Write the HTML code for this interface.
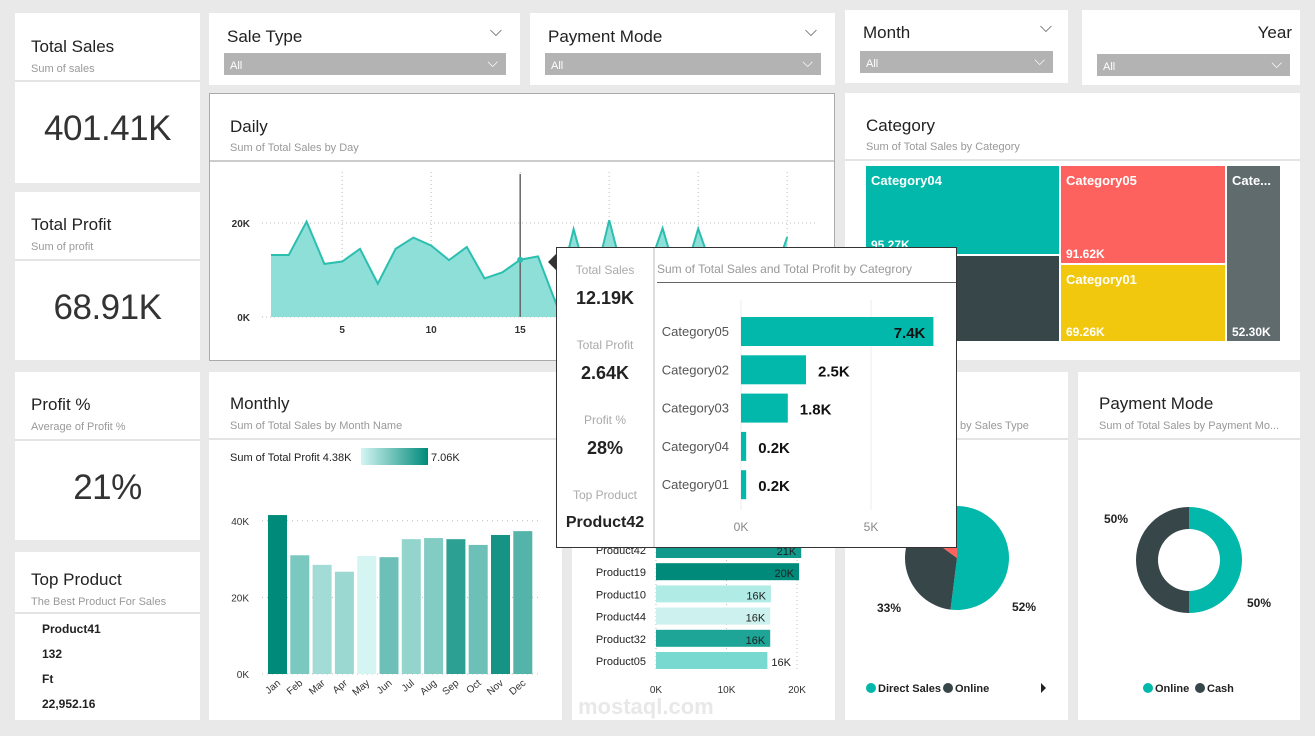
<!DOCTYPE html>
<html><head><meta charset="utf-8">
<style>
body{margin:0;width:1315px;height:736px;background:#e9e9e9;font-family:"Liberation Sans",sans-serif;position:relative;overflow:hidden}
.tile{position:absolute;background:#fff}
.t{position:absolute;font-size:17px;color:#222}
.s{position:absolute;font-size:11px;color:#999}
.ln{position:absolute;height:2px;background:#e4e4e4}
.big{position:absolute;font-size:35px;color:#333;text-align:center;width:100%;letter-spacing:-0.5px}
.dd{position:absolute;height:22px;background:#b3b3b3;color:#fff;font-size:11px;line-height:26px;padding-left:6px;box-sizing:border-box}
.dd:after{content:"⌵";position:absolute;right:8px;top:-4px;font-size:14px}
svg text{font-family:"Liberation Sans",sans-serif}
</style></head><body>
<div class="tile" style="left:15px;top:13px;width:185px;height:170px">
<div class="t" style="left:16px;top:24px">Total Sales</div><div class="s" style="left:16px;top:50px">Sum of sales</div>
<div class="ln" style="left:0;top:67px;width:185px"></div><div class="big" style="top:96px">401.41K</div></div>
<div class="tile" style="left:15px;top:192px;width:185px;height:168px">
<div class="t" style="left:16px;top:23px">Total Profit</div><div class="s" style="left:16px;top:49px">Sum of profit</div>
<div class="ln" style="left:0;top:67px;width:185px"></div><div class="big" style="top:96px">68.91K</div></div>
<div class="tile" style="left:15px;top:372px;width:185px;height:168px">
<div class="t" style="left:16px;top:23px">Profit %</div><div class="s" style="left:16px;top:49px">Average of Profit %</div>
<div class="ln" style="left:0;top:67px;width:185px"></div><div class="big" style="top:96px">21%</div></div>
<div class="tile" style="left:15px;top:552px;width:185px;height:168px">
<div class="t" style="left:16px;top:18px">Top Product</div><div class="s" style="left:16px;top:44px">The Best Product For Sales</div>
<div class="ln" style="left:0;top:60px;width:185px"></div>
<div style="position:absolute;left:27px;top:65px;font-size:12px;font-weight:bold;color:#222;line-height:25px">Product41<br>132<br>Ft<br>22,952.16</div></div>
<div class="tile" style="left:209px;top:13px;width:311px;height:72px">
<div class="t" style="left:18px;top:14px">Sale Type</div><div style="position:absolute;right:18px;top:10px;color:#555">⌵</div>
<div class="dd" style="left:15px;top:40px;width:282px">All</div></div>
<div class="tile" style="left:530px;top:13px;width:305px;height:72px">
<div class="t" style="left:18px;top:14px">Payment Mode</div><div style="position:absolute;right:18px;top:10px;color:#555">⌵</div>
<div class="dd" style="left:15px;top:40px;width:276px">All</div></div>
<div class="tile" style="left:845px;top:10px;width:223px;height:73px">
<div class="t" style="left:18px;top:13px">Month</div><div style="position:absolute;right:16px;top:9px;color:#555">⌵</div>
<div class="dd" style="left:15px;top:41px;width:193px">All</div></div>
<div class="tile" style="left:1082px;top:10px;width:218px;height:75px">
<div class="t" style="right:8px;top:13px">Year</div>
<div class="dd" style="left:15px;top:44px;width:193px">All</div></div>
<div class="tile" style="left:209px;top:93px;width:624px;height:266px;border:1px solid #aaa">
<div class="t" style="left:20px;top:23px">Daily</div><div class="s" style="left:20px;top:48px">Sum of Total Sales by Day</div>
<div class="ln" style="left:0;top:66px;width:624px;background:#ccc"></div></div>
<div class="tile" style="left:845px;top:93px;width:455px;height:267px">
<div class="t" style="left:21px;top:23px">Category</div><div class="s" style="left:21px;top:48px">Sum of Total Sales by Category</div>
<div class="ln" style="left:0;top:66px;width:455px"></div></div>
<div class="tile" style="left:209px;top:372px;width:353px;height:348px">
<div class="t" style="left:21px;top:22px">Monthly</div><div class="s" style="left:21px;top:48px">Sum of Total Sales by Month Name</div>
<div class="ln" style="left:0;top:66px;width:353px"></div></div>
<div class="tile" style="left:572px;top:372px;width:263px;height:348px"></div>
<div class="tile" style="left:845px;top:372px;width:223px;height:348px">
<div class="s" style="left:115px;top:48px">by Sales Type</div><div class="ln" style="left:0;top:66px;width:223px"></div></div>
<div class="tile" style="left:1078px;top:372px;width:222px;height:348px">
<div class="t" style="left:21px;top:22px">Payment Mode</div><div class="s" style="left:21px;top:48px">Sum of Total Sales by Payment Mo...</div>
<div class="ln" style="left:0;top:66px;width:222px"></div></div>

<svg id="ch" width="1315" height="736" style="position:absolute;left:0;top:0"></svg>

<div style="position:absolute;left:556px;top:247px;width:399px;height:299px;background:#fff;border:1px solid #333">
<div style="position:absolute;left:96px;top:0;width:2px;height:299px;background:#ddd"></div>
<div style="position:absolute;left:0;width:96px;text-align:center;font-size:12px;color:#aaa;top:15px">Total Sales</div>
<div style="position:absolute;left:0;width:96px;text-align:center;font-size:18px;font-weight:bold;color:#222;top:40px">12.19K</div>
<div style="position:absolute;left:0;width:96px;text-align:center;font-size:12px;color:#aaa;top:90px">Total Profit</div>
<div style="position:absolute;left:0;width:96px;text-align:center;font-size:18px;font-weight:bold;color:#222;top:115px">2.64K</div>
<div style="position:absolute;left:0;width:96px;text-align:center;font-size:12px;color:#aaa;top:165px">Profit %</div>
<div style="position:absolute;left:0;width:96px;text-align:center;font-size:18px;font-weight:bold;color:#222;top:190px">28%</div>
<div style="position:absolute;left:0;width:96px;text-align:center;font-size:12px;color:#aaa;top:240px">Top Product</div>
<div style="position:absolute;left:0;width:96px;text-align:center;font-size:16px;font-weight:bold;color:#222;top:266px">Product42</div>
<div style="position:absolute;left:100px;top:14px;font-size:12px;color:#999">Sum of Total Sales and Total Profit by Categrory</div>
<div style="position:absolute;left:100px;top:34px;width:299px;height:1px;background:#666"></div>
<svg id="tt" width="399" height="299" style="position:absolute;left:0;top:0"></svg>
</div>

<script>
const NS='http://www.w3.org/2000/svg';
function mk(p,tag,a,txt){const e=document.createElementNS(NS,tag);for(const k in a)e.setAttribute(k,a[k]);if(txt!==undefined)e.textContent=txt;p.appendChild(e);return e;}
const svg=document.getElementById('ch');

const days=[1,2,3,4,5,6,7,8,9,10,11,12,13,14,15,16,17,18,19,20,21,22,23,24,25,26,27,28,29,30];
const dailySales=[13.2,13.2,20.3,11.3,11.8,14.5,7.1,14.5,16.9,15.2,12.1,14.9,8.2,9.5,12.19,12.9,3,18.7,5,20.6,6,8,18.9,6,18.8,8,6,8,6,17];
const dailyTicks=[5,10,15,20,25,30];
const dailyY=[0,20];
const dx=d=>271+(d-1)*17.8, dy=v=>317-v*4.7;
dailyY.forEach(v=>{const l=mk(svg,'line',{x1:262,x2:815,y1:dy(v),y2:dy(v),stroke:'#bbb','stroke-dasharray':'1,3'});

mk(svg,'text',{x:250,y:dy(v)+4,'font-size':10,'font-weight':'bold','text-anchor':'end',fill:'#333'},v+'K');});
dailyTicks.forEach(d=>{mk(svg,'line',{x1:dx(d),x2:dx(d),y1:172,y2:317,stroke:'#bbb','stroke-dasharray':'1,3'});
mk(svg,'text',{x:dx(d),y:333,'font-size':10,'font-weight':'bold','text-anchor':'middle',fill:'#333'},d);});
let pd='M'+dx(days[0])+','+dy(0);days.forEach((d,i)=>pd+=' L'+dx(d)+','+dy(dailySales[i]));pd+=' L'+dx(days[days.length-1])+','+dy(0)+'Z';
const area=mk(svg,'path',{d:pd,fill:'#8ddfd8'});
const line=mk(svg,'polyline',{points:days.map((d,i)=>dx(d)+','+dy(dailySales[i])).join(' '),fill:'none',stroke:'#2cbfb0','stroke-width':2});

mk(svg,'line',{x1:dx(15),x2:dx(15),y1:174,y2:317,stroke:'#666','stroke-width':1.5});
mk(svg,'circle',{cx:dx(15),cy:dy(12.19),r:3,fill:'#2cbfb0'});
mk(svg,'path',{d:'M548,262 L556,254 L556,270Z',fill:'#333'});

const cats=[['Category04','95.27K','#01B8AA',866,166,193,88],['',' ','#374649',866,256,193,85],['Category05','91.62K','#FD625E',1061,166,164,97],['Category01','69.26K','#F2C80F',1061,265,164,76],['Cate...','52.30K','#5F6B6D',1227,166,53,175]];
cats.forEach(c=>{const r=mk(svg,'rect',{x:c[3],y:c[4],width:c[5],height:c[6],fill:c[2]});

mk(svg,'text',{x:c[3]+5,y:c[4]+19,'font-size':13,'font-weight':'bold',fill:'#fff'},c[0]);
mk(svg,'text',{x:c[3]+5,y:c[4]+c[6]-5,'font-size':12,'font-weight':'bold',fill:'#fff'},c[1]);});

const months=['Jan','Feb','Mar','Apr','May','Jun','Jul','Aug','Sep','Oct','Nov','Dec'];
const monthSales=[41.5,31,28.5,26.7,30.8,30.5,35.2,35.5,35.2,33.7,36.3,37.3];
const monthProfit=[7.06,5.5,5.0,5.1,4.38,5.7,5.2,5.4,6.5,5.7,6.8,6.0];
const monthTicks=[0,20,40];
const my=v=>674-v*3.83, mx=i=>266+i*22.3;
function col(p){const t=(p-4.38)/(7.06-4.38);const a=[212,245,242],b=[0,138,122];return 'rgb('+a.map((v,k)=>Math.round(v+(b[k]-v)*t)).join(',')+')';}
mk(svg,'text',{x:230,y:461,'font-size':11,fill:'#222'},'Sum of Total Profit   4.38K');
const g=mk(svg,'defs',{});const lg=mk(g,'linearGradient',{id:'lg'});mk(lg,'stop',{offset:0,'stop-color':'#d4f5f2'});mk(lg,'stop',{offset:1,'stop-color':'#008a7a'});
mk(svg,'rect',{x:361,y:448,width:67,height:17,fill:'url(#lg)'});
mk(svg,'text',{x:431,y:461,'font-size':11,fill:'#222'},'7.06K');
monthTicks.forEach(v=>{mk(svg,'line',{x1:262,x2:540,y1:my(v),y2:my(v),stroke:'#bbb','stroke-dasharray':'1,4'});
mk(svg,'text',{x:249,y:my(v)+4,'font-size':10,'text-anchor':'end',fill:'#333'},v+'K');});
months.forEach((m,i)=>{const r=mk(svg,'rect',{x:mx(i)+2,y:my(monthSales[i]),width:19,height:monthSales[i]*3.83,fill:col(monthProfit[i])});

mk(svg,'text',{x:mx(i)+15,y:684,'font-size':10,'text-anchor':'end',fill:'#333',transform:'rotate(-40 '+(mx(i)+15)+' 684)'},m);});

const products=['Product42','Product19','Product10','Product44','Product32','Product05'];
const productSales=[20.6,20.3,16.3,16.2,16.2,15.8];
const productLabels=['21K','20K','16K','16K','16K','16K'];
const productColors=['#119a8c','#008a7a','#b0ebe6','#cdf1ee','#1ea598','#78d9d0'];
const prodTicks=[0,10,20];
const px=v=>656+v*7.05;
prodTicks.forEach(v=>{mk(svg,'line',{x1:px(v),x2:px(v),y1:540,y2:670,stroke:'#bbb','stroke-dasharray':'1,3'});
mk(svg,'text',{x:px(v),y:693,'font-size':10,'text-anchor':'middle',fill:'#333'},v+'K');});
products.forEach((p,i)=>{const y=541+i*22.2;const r=mk(svg,'rect',{x:px(0),y:y,width:productSales[i]*7.05,height:17,fill:productColors[i]});

mk(svg,'text',{x:646,y:y+13,'font-size':11,'text-anchor':'end',fill:'#222'},p);
const inside=productSales[i]>16;mk(svg,'text',{x:inside?px(productSales[i])-5:px(productSales[i])+4,y:y+14,'font-size':11,'text-anchor':inside?'end':'start',fill:'#222'},productLabels[i]);});
mk(svg,'text',{x:578,y:714,'font-size':22,'font-weight':'bold',fill:'#e8e8e8'},'mostaql.com');

const pieLabels=['Direct Sales','Online','Other'];
const pieValues=[52,33,15];
const pieColors=['#01B8AA','#374649','#FD625E'];
function arc(cx,cy,r,ri,a0,a1){const p=(a,rr)=>[cx+rr*Math.sin(a),cy-rr*Math.cos(a)];const l=a1-a0>Math.PI?1:0;
const [x0,y0]=p(a0,r),[x1,y1]=p(a1,r);if(!ri)return `M${cx},${cy}L${x0},${y0}A${r},${r} 0 ${l} 1 ${x1},${y1}Z`;
const [x2,y2]=p(a1,ri),[x3,y3]=p(a0,ri);return `M${x0},${y0}A${r},${r} 0 ${l} 1 ${x1},${y1}L${x2},${y2}A${ri},${ri} 0 ${l} 0 ${x3},${y3}Z`;}
let tot=pieValues.reduce((a,b)=>a+b),a=0;
pieValues.forEach((v,i)=>{const a1=a+v/tot*2*Math.PI;const s=mk(svg,'path',{d:arc(957,558,52,0,a,a1),fill:pieColors[i]});
a=a1;});
mk(svg,'text',{x:1012,y:611,'font-size':12,'font-weight':'bold',fill:'#222'},pieValues[0]+'%');
mk(svg,'text',{x:877,y:612,'font-size':12,'font-weight':'bold',fill:'#222'},pieValues[1]+'%');
[['Direct Sales',871,'#01B8AA'],['Online',948,'#374649']].forEach(l=>{mk(svg,'circle',{cx:l[1],cy:688,r:5,fill:l[2]});mk(svg,'text',{x:l[1]+7,y:692,'font-size':11,'font-weight':'bold',fill:'#222'},l[0]);});
mk(svg,'path',{d:'M1041,683 L1046,688 L1041,693Z',fill:'#222'});

const donutLabels=['Online','Cash'];
const donutValues=[50,50];
const donutColors=['#01B8AA','#374649'];
tot=donutValues.reduce((a,b)=>a+b);a=0;
donutValues.forEach((v,i)=>{const a1=a+v/tot*2*Math.PI;const s=mk(svg,'path',{d:arc(1189,560,53,31,a,a1-0.0001),fill:donutColors[i]});
a=a1;});
mk(svg,'text',{x:1247,y:607,'font-size':12,'font-weight':'bold',fill:'#222'},donutValues[0]+'%');
mk(svg,'text',{x:1104,y:523,'font-size':12,'font-weight':'bold',fill:'#222'},donutValues[1]+'%');
[['Online',1148,'#01B8AA'],['Cash',1200,'#374649']].forEach(l=>{mk(svg,'circle',{cx:l[1],cy:688,r:5,fill:l[2]});mk(svg,'text',{x:l[1]+7,y:692,'font-size':11,'font-weight':'bold',fill:'#222'},l[0]);});

const tt=document.getElementById('tt');
const ttCats=['Category05','Category02','Category03','Category04','Category01'];
const ttProfit=[7.4,2.5,1.8,0.2,0.2];
const ttTicks=[0,5];
const tx=v=>184+v*26;
ttTicks.forEach(v=>{mk(tt,'line',{x1:tx(v),x2:tx(v),y1:52,y2:262,stroke:'#eee'});
mk(tt,'text',{x:tx(v),y:283,'font-size':12,'text-anchor':'middle',fill:'#888'},v+'K');});
ttCats.forEach((c,i)=>{const y=69+i*38.3;const r=mk(tt,'rect',{x:tx(0),y:y,width:ttProfit[i]*26,height:29,fill:'#01B8AA'});

mk(tt,'text',{x:172,y:y+19,'font-size':13,'text-anchor':'end',fill:'#555'},c);
const inside=ttProfit[i]>5;mk(tt,'text',{x:inside?tx(ttProfit[i])-8:tx(ttProfit[i])+12,y:y+21,'font-size':15,'font-weight':'bold','text-anchor':inside?'end':'start',fill:'#111'},ttProfit[i]+'K');});
</script>
</body></html>
